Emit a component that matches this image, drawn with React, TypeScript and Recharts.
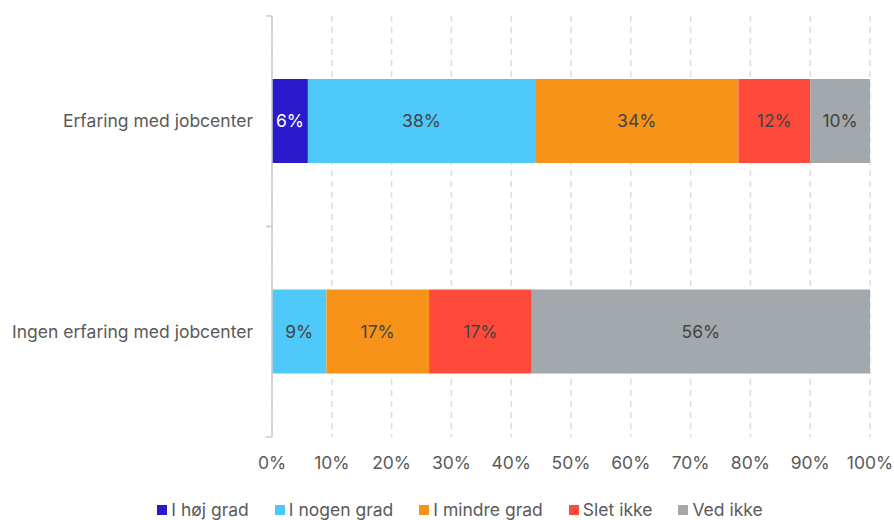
import { BarChart, Bar, XAxis, YAxis, CartesianGrid, Legend, LabelList } from 'recharts'

const categories = ['Erfaring med jobcenter', 'Ingen erfaring med jobcenter']
const hojGrad = [6, 0]
const nogenGrad = [38, 9]
const mindreGrad = [34, 17]
const sletIkke = [12, 17]
const vedIkke = [10, 56]
const xTickValues = [0, 10, 20, 30, 40, 50, 60, 70, 80, 90, 100]

const series = [
  { key: 'hoj', name: 'I høj grad', color: '#2a1acb', text: '#ffffff' },
  { key: 'nogen', name: 'I nogen grad', color: '#4ec9f9', text: '#444444' },
  { key: 'mindre', name: 'I mindre grad', color: '#f79318', text: '#444444' },
  { key: 'slet', name: 'Slet ikke', color: '#fe4a3a', text: '#444444' },
  { key: 'ved', name: 'Ved ikke', color: '#a2a8ab', text: '#444444' },
]

const data = categories.map((cat, i) => ({
  cat,
  hoj: hojGrad[i],
  nogen: nogenGrad[i],
  mindre: mindreGrad[i],
  slet: sletIkke[i],
  ved: vedIkke[i],
}))

const textColor = '#5a5a5a'
const axisColor = '#cccccc'
const fontSize = 17.5
const labelGap = 19

// category label plus small tick marks at the band edges
function CategoryTick(props: any) {
  const { x, y, payload } = props
  const half = payload?.offset ?? 0
  const axisX = x + labelGap
  return (
    <g>
      <text x={x} y={y} dy="0.355em" textAnchor="end" fill={textColor} fontSize={fontSize}>
        {payload.value}
      </text>
      {half > 0 && (
        <>
          <line x1={axisX - 6} x2={axisX} y1={y - half} y2={y - half} stroke={axisColor} strokeWidth={1.5} />
          <line x1={axisX - 6} x2={axisX} y1={y + half} y2={y + half} stroke={axisColor} strokeWidth={1.5} />
        </>
      )}
    </g>
  )
}

function LegendContent() {
  return (
    <div
      style={{
        display: 'flex',
        justifyContent: 'center',
        gap: 26,
        height: 20,
        lineHeight: '20px',
        paddingLeft: 50,
        fontSize,
        color: textColor,
      }}
    >
      {series.map((s) => (
        <span key={s.key} style={{ display: 'flex', alignItems: 'center' }}>
          <span style={{ width: 10, height: 10, background: s.color, marginRight: 4, display: 'inline-block' }} />
          {s.name}
        </span>
      ))}
    </div>
  )
}

export default function App() {
  return (
    <div style={{ position: 'absolute', left: 0, top: 0, fontFamily: 'Inter, sans-serif' }}>
      <BarChart
        width={894}
        height={520}
        data={data}
        layout="vertical"
        stackOffset="expand"
        margin={{ top: 16, right: 24, left: 0, bottom: 0 }}
      >
        <CartesianGrid horizontal={false} stroke="#dddddd" strokeDasharray="6 5" strokeWidth={1.5} />
        <XAxis
          type="number"
          domain={[0, 1]}
          ticks={xTickValues.map((v) => v / 100)}
          tickFormatter={(v) => `${Math.round(v * 100)}%`}
          axisLine={false}
          tickLine={false}
          tickMargin={14}
          height={63}
          tick={{ fontSize, fill: textColor }}
        />
        <YAxis
          type="category"
          dataKey="cat"
          width={272}
          axisLine={{ stroke: axisColor, strokeWidth: 1.5 }}
          tickLine={false}
          tickSize={0}
          tickMargin={labelGap}
          tick={(p: any) => <CategoryTick {...p} />}
        />
        <Legend verticalAlign="bottom" content={() => <LegendContent />} />
        {series.map((s) => (
          <Bar key={s.key} dataKey={s.key} name={s.name} stackId="a" fill={s.color} barSize={84} isAnimationActive={false}>
            <LabelList
              dataKey={s.key}
              position="center"
              formatter={(v: number) => (v ? `${v}%` : '')}
              fill={s.text}
              style={{ fontSize }}
            />
          </Bar>
        ))}
      </BarChart>
    </div>
  )
}
